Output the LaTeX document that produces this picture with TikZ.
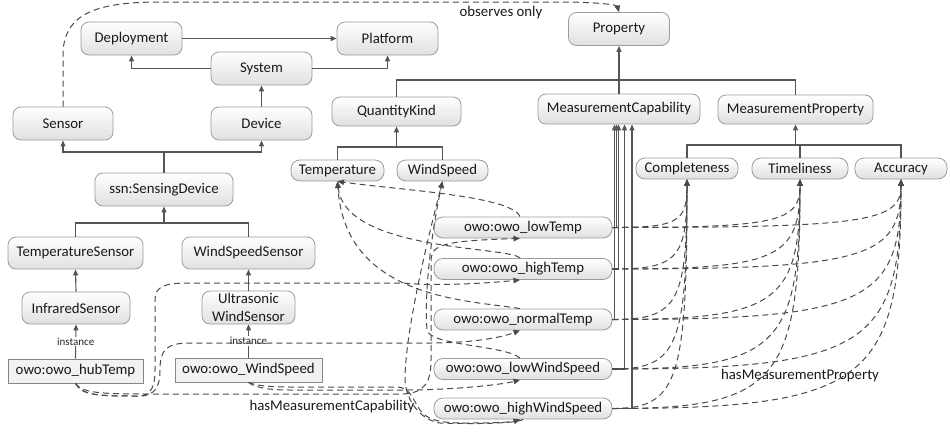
\documentclass[tikz,border=0pt]{standalone}
\usepackage{fontspec}
\setmainfont{Carlito}
\usetikzlibrary{arrows.meta,calc}
\definecolor{edgegray}{HTML}{555555}
\definecolor{dashgray}{HTML}{4A4A4A}
\definecolor{boxline}{HTML}{9C9C9C}
\definecolor{boxshade}{HTML}{E0E0E0}
\definecolor{instfill}{HTML}{F2F2F2}
\begin{document}
\begin{tikzpicture}[x=1pt,y=-1pt,
  cls/.style 2 args={draw=boxline, line width=0.8pt, rounded corners=8pt,
    top color=white, bottom color=boxshade, minimum width=#1pt, minimum height=#2pt,
    inner sep=0pt, font=\fontsize{14.8}{18}\selectfont, text=black!90, align=center},
  capnode/.style={cls={178}{21}, rounded corners=9pt},
  qual/.style={cls={#1}{21}, rounded corners=9pt},
  inst/.style={draw=boxline!85!black, fill=instfill, line width=0.8pt,
    minimum width=#1pt, minimum height=24pt, inner sep=0pt,
    font=\fontsize{14.8}{18}\selectfont, text=black!90},
  link/.style={draw=edgegray, line width=1.1pt},
  isa/.style={link, -{Triangle[length=6pt,width=5pt]}},
  rel/.style={draw=dashgray, line width=1pt, dash pattern=on 6pt off 4pt,
    -{Triangle[length=6.5pt,width=5.5pt]}},
  small/.style={font=\fontsize{11}{13}\selectfont, fill=white, inner sep=1pt, text=black!85},
  lbl/.style={font=\fontsize{14.8}{18}\selectfont, text=black!90},
]
\useasboundingbox (0,0) rectangle (950,434);

% ---- classes ----
\node[cls={101}{33}] (dep)    at (131.5,38.5) {Deployment};
\node[cls={101}{33}] (plat)   at (387.5,38.5) {Platform};
\node[cls={101}{33}] (prop)   at (619,29)     {Property};
\node[cls={101}{33}] (sys)    at (261.5,68.5) {System};
\node[cls={100}{33}] (sensor) at (63,123.5)   {Sensor};
\node[cls={101}{33}] (device) at (261.5,123.5){Device};
\node[cls={129}{29}] (qk)     at (396.5,111.5){QuantityKind};
\node[cls={162}{30}] (mc)     at (619,109)    {MeasurementCapability};
\node[cls={155}{29}] (mp)     at (795.5,109.5){MeasurementProperty};
\node[cls={138}{33}] (sd)     at (164,189.5)  {ssn:SensingDevice};
\node[cls={135}{32}] (tsens)  at (75.5,253)   {TemperatureSensor};
\node[cls={133}{32}] (wsens)  at (248.5,253)  {WindSpeedSensor};
\node[cls={108}{32}] (infra)  at (76,308)     {InfraredSensor};
\node[cls={93}{33}]  (ultra)  at (248.5,307.5){Ultrasonic\\WindSensor};
\node[qual=93]  (temp)  at (337.5,170.5) {Temperature};
\node[qual=91]  (wind)  at (442.5,170.5) {WindSpeed};
\node[qual=102] (compl) at (687,168.5)   {Completeness};
\node[qual=96]  (time)  at (800,168.5)   {Timeliness};
\node[qual=92]  (acc)   at (901,168.5)   {Accuracy};

% ---- individuals ----
\node[inst=135] (hub) at (75.5,371)  {owo:owo\_hubTemp};
\node[inst=147] (ws)  at (248.5,370) {owo:owo\_WindSpeed};
\node[capnode] (lowT)  at (523,227.5) {owo:owo\_lowTemp};
\node[capnode] (highT) at (523,269)   {owo:owo\_highTemp};
\node[capnode] (normT) at (523,319.5) {owo:owo\_normalTemp};
\node[capnode] (lowW)  at (523,369)   {owo:owo\_lowWindSpeed};
\node[capnode] (highW) at (523,408.5) {owo:owo\_highWindSpeed};

% ---- relation labels ----
\node[lbl] (obs) at (501,13)  {observes only};
\node[lbl] (hmc) at (332,407) {hasMeasurementCapability};
\node[lbl] (hmp) at (800,376) {hasMeasurementProperty};

% ---- subclass hierarchy ----
\draw[isa] (dep.east) -- (plat.west);
\draw[isa] (sys.west) -| (dep.south);
\draw[isa] (sys.east) -| (plat.south);
\draw[isa] (device.north) -- (sys.south);

\coordinate (sdBar) at (164,152);
\draw[link] (sd.north) -- (sdBar);
\draw[isa] (sdBar) -| (sensor.south);
\draw[isa] (sdBar) -| (device.south);

\coordinate (sensBar) at (164,223);
\draw[link] (tsens.north) |- (sensBar) -| (wsens.north);
\draw[isa] (sensBar) -- (sd.south);
\draw[isa] (infra.north) -- (tsens.south);
\draw[isa] (ultra.north) -- (wsens.south);
\draw[isa] (hub.north) -- node[small]{instance} (infra.south);
\draw[isa] (ws.north) -- node[small]{instance} (ultra.south);

\coordinate (qkBar) at (396.5,147);
\draw[link] (temp.north) |- (qkBar) -| (wind.north);
\draw[isa] (qkBar) -- (qk.south);

\coordinate (propBar) at (619,80);
\draw[link] (qk.north) |- (propBar) -| (mp.north);
\draw[link] (mc.north) -- (propBar);
\draw[isa] (propBar) -- (prop.south);

\coordinate (mpBar) at (795.5,145);
\draw[link] (compl.north) |- (mpBar) -| (acc.north);
\draw[link] (time.north) -- (time.north |- mpBar);
\draw[isa] (mpBar) -- (mp.south);

% capabilities are MeasurementCapability instances
\draw[isa] (normT.east) -| ([xshift=-4.5pt]mc.south);
\draw[isa] (lowT.east)  -| ([xshift=-2.5pt]mc.south);
\draw[isa] (highT.east) -| ([xshift=-0.5pt]mc.south);
\draw[isa] (lowW.east)  -| ([xshift=5.5pt]mc.south);
\draw[isa] (highW.east) -| ([xshift=13pt]mc.south);

% ---- object properties ----
\draw[rel] (sensor.north) -- (63,55) .. controls (63,12) and (100,2) .. (160,2)
  -- (560,2) .. controls (598,2) and (617,5) .. (prop.north);

% forProperty
\draw[rel] ([xshift=-3pt]lowT.north) .. controls (512,196) and (400,190) .. (temp.south);
\draw[rel] ([xshift=-3pt]highT.north) .. controls (510,246) and (345,252) .. (temp.south);
\draw[rel] ([xshift=-3pt]normT.north) .. controls (470,300) and (345,300) .. (temp.south);
\draw[rel] ([xshift=-3pt]lowW.north) .. controls (505,345) and (430,346) .. (427,330)
  .. controls (424,290) and (432,230) .. (wind.south);
\draw[rel] (highW.south) .. controls (515,424) and (470,424) .. (440,423)
  .. controls (420,420) and (406,400) .. (405,380)
  .. controls (405,330) and (430,230) .. (wind.south);

% hasMeasurementCapability
\draw[rel] (hub.south) .. controls (82,393) and (100,394) .. (150,394) -- (400,394)
  .. controls (425,394) and (431,382) .. (431,360) -- (431,262)
  .. controls (431,245) and (440,241) .. ([xshift=-3pt]lowT.south);
\draw[rel] (hub.south) .. controls (82,396) and (100,396) .. (138,396)
  .. controls (152,396) and (155,385) .. (155,370) -- (155,300)
  .. controls (155,286) and (165,283) .. (190,283) -- (403,283)
  .. controls (430,286) and (480,284) .. ([xshift=-3pt]highT.south);
\draw[rel] (hub.south) .. controls (82,396) and (100,396) .. (140,396)
  .. controls (156,396) and (160,385) .. (160,370)
  .. controls (160,350) and (166,343) .. (190,343) -- (430,343)
  .. controls (470,343) and (500,338) .. ([xshift=-3pt]normT.south);
\draw[rel] (ws.south) .. controls (255,387) and (265,390) .. (290,390) -- (405,390)
  .. controls (450,390) and (500,385) .. ([xshift=-3pt]lowW.south);
\draw[rel] (ws.south) .. controls (255,385) and (265,387) .. (290,387) -- (398,387)
  .. controls (410,388) and (412,398) .. (420,410)
  .. controls (427,420) and (440,423) .. (465,423)
  .. controls (495,423) and (512,422) .. ([xshift=-3pt]highW.south);

% hasMeasurementProperty
\foreach \s in {lowT,highT,normT,lowW,highW}
  \foreach \t in {compl,time,acc}
    \draw[rel] (\s.east) .. controls ($(\s.east)!0.88!(\s.east -| \t.south)$)
      and ($(\t.south)!0.88!(\s.east -| \t.south)$) .. (\t.south);
\end{tikzpicture}
\end{document}
